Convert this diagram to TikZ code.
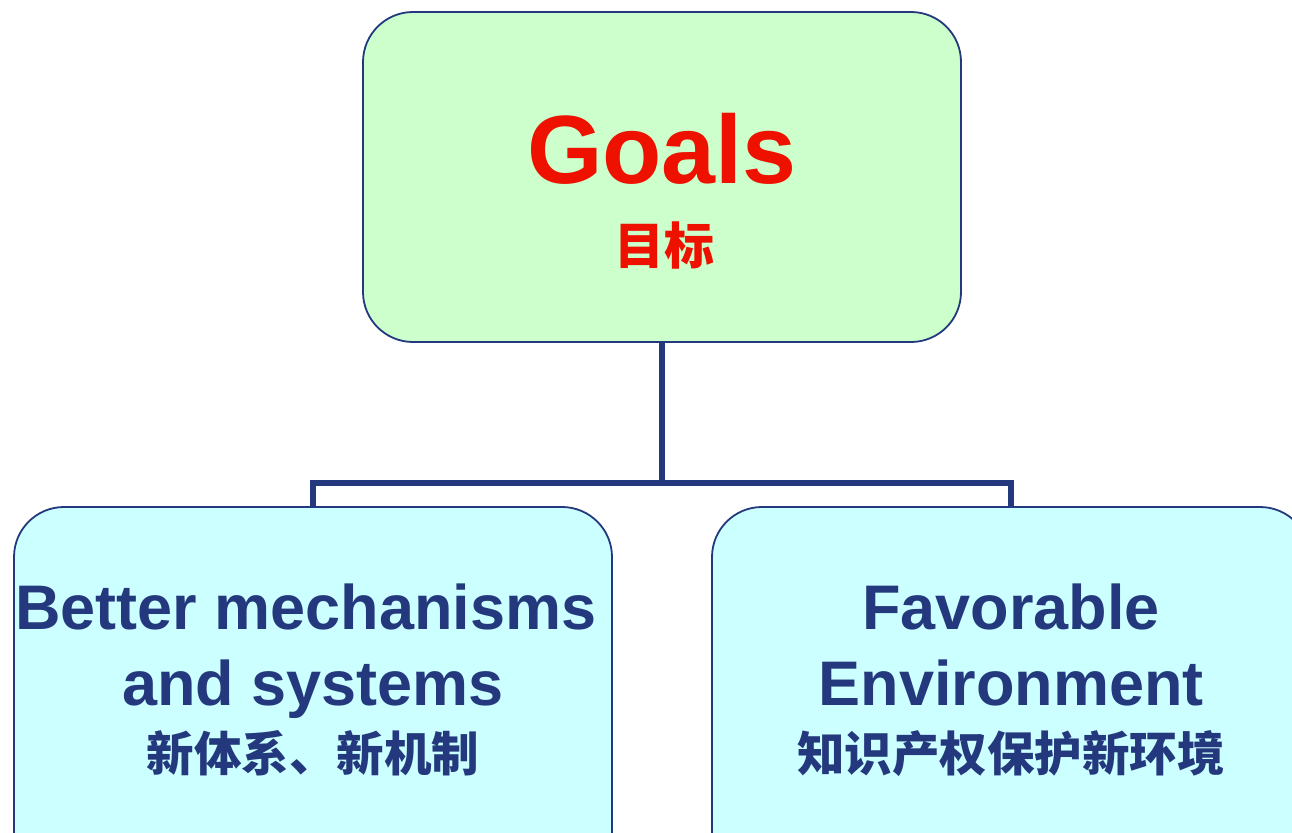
\documentclass[tikz,border=0pt]{standalone}
\usepackage{fontspec}
\setmainfont{Liberation Sans}
\newfontfamily\cjk{Noto Sans CJK SC}
\definecolor{navy}{HTML}{24397D}
\definecolor{boxgreen}{HTML}{CCFFCC}
\definecolor{boxcyan}{HTML}{CCFFFF}
\definecolor{goalred}{HTML}{EE1100}
\tikzset{
  box/.style={draw=navy, line width=1.8pt, rounded corners=50pt, minimum width=598pt, inner sep=0pt, outer sep=0pt},
  link/.style={draw=navy, line width=6pt},
  en/.style={anchor=base, font=\bfseries\fontsize{63}{63}\selectfont, text=navy, inner sep=0pt},
  zh/.style={anchor=base, font=\cjk\bfseries\fontsize{47.5}{47.5}\selectfont, text=navy, inner sep=0pt}
}
\begin{document}
\begin{tikzpicture}[x=1pt,y=-1pt]
\useasboundingbox (0,0) rectangle (1292,832);
\node[box, fill=boxgreen, minimum height=330pt, anchor=north] (goals) at (662,12) {};
\node[box, fill=boxcyan, minimum height=380pt, anchor=north] (left) at (313,507) {};
\node[box, fill=boxcyan, minimum height=380pt, anchor=north] (right) at (1011,507) {};
\coordinate (junc) at (662,483);
\draw[link] (goals.south) -- (junc) -| (left.north);
\draw[link] (junc) -| (right.north);
\node[anchor=base, font=\bfseries\fontsize{97}{97}\selectfont, text=goalred, inner sep=0pt] (gt) at (662,183) {Goals};
\node[anchor=base, font=\cjk\bfseries\fontsize{50}{50}\selectfont, text=goalred, inner sep=0pt] (gz) at (664,264) {目标};
\node[en] (l1) at (306,629) {Better mechanisms};
\node[en] (l2) at (313,705) {and systems};
\node[zh] (l3) at (313,771) {新体系、新机制};
\node[en] (r1) at (1011,629) {Favorable};
\node[en] (r2) at (1011,705) {Environment};
\node[zh] (r3) at (1011,771) {知识产权保护新环境};
\end{tikzpicture}
\end{document}
